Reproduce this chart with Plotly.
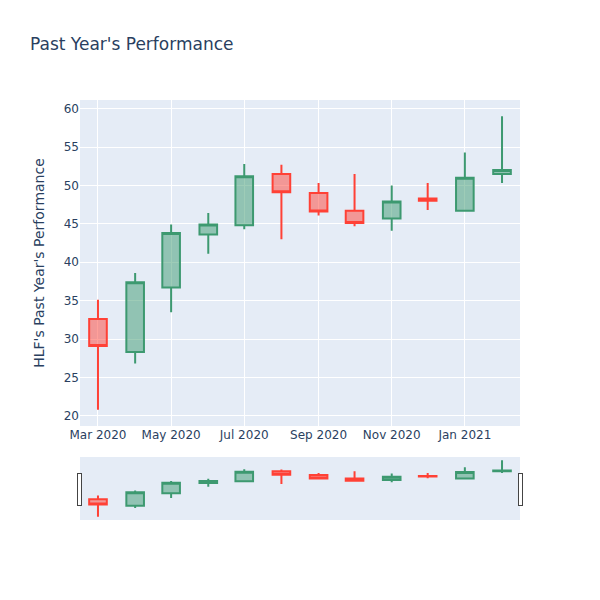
import plotly.graph_objects as go

dates = ["2020-03-01", "2020-04-01", "2020-05-01", "2020-06-01", "2020-07-01", "2020-08-01",
         "2020-09-01", "2020-10-01", "2020-11-01", "2020-12-01", "2021-01-01", "2021-02-01"]
open_ = [32.6, 28.3, 36.7, 43.6, 44.8, 51.5, 49.0, 46.7, 45.7, 48.3, 46.7, 51.5]
high = [35.1, 38.6, 44.9, 46.4, 52.8, 52.7, 50.3, 51.5, 50.0, 50.3, 54.3, 59.0]
low = [20.8, 26.8, 33.5, 41.1, 44.3, 43.0, 46.1, 44.7, 44.1, 46.8, 46.7, 50.3]
close = [29.1, 37.4, 43.8, 44.9, 51.2, 49.1, 46.6, 45.1, 47.9, 48.0, 51.0, 52.0]

fig = go.Figure(go.Candlestick(x=dates, open=open_, high=high, low=low, close=close))
fig.update_layout(
    title="Past Year's Performance",
    yaxis_title="HLF's Past Year's Performance",
    width=600, height=600,
    font=dict(family="DejaVu Sans"),
)
fig.write_html("out.html", config={"displayModeBar": False},
               post_script="document.body.style.margin='0';")
